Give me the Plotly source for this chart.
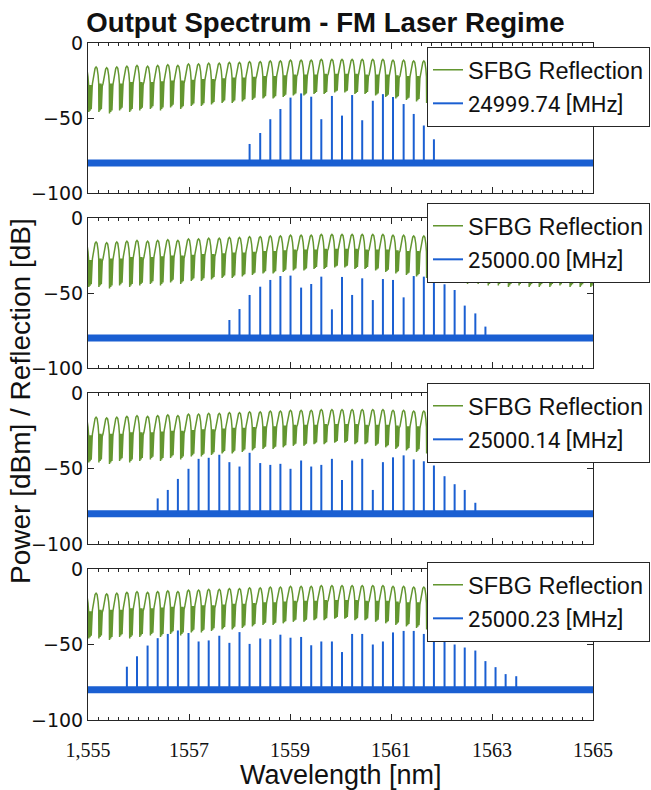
import plotly.graph_objects as go

# ---------------- data ----------------
# SFBG reflection peak wavelengths (nm); the laser comb sits on the same 25 GHz grid
WL_GRID = [1554.96, 1555.16, 1555.37, 1555.57, 1555.77, 1555.97, 1556.18, 1556.38, 1556.58, 1556.78,
           1556.99, 1557.19, 1557.39, 1557.60, 1557.80, 1558.00, 1558.20, 1558.41, 1558.61, 1558.81,
           1559.01, 1559.22, 1559.42, 1559.62, 1559.83, 1560.03, 1560.23, 1560.43, 1560.64, 1560.84,
           1561.04, 1561.25, 1561.45, 1561.65, 1561.85, 1562.06, 1562.26, 1562.46, 1562.67, 1562.87,
           1563.07, 1563.27, 1563.48, 1563.68, 1563.88, 1564.09, 1564.29, 1564.49, 1564.69, 1564.90,
           1565.10]

# SFBG reflection per period: peak level, level where the fast ripple starts, ripple bottom (dB)
SFBG_TOP = [-17, -16, -16.5, -16, -15.5, -15, -15.5, -15, -14.5, -15,
            -14, -14, -13.5, -13.5, -13, -13, -12.5, -12.5, -12, -12,
            -11.5, -11.5, -11.5, -11, -11, -11, -11, -11, -11, -11,
            -11.5, -11.5, -12, -12, -12, -12.5, -12.5, -13, -13, -13.5,
            -13.5, -14, -14, -14.5, -14.5, -15, -15, -15.5, -15.5, -16,
            -16]
SFBG_MID = [-28, -27, -27, -27, -26, -26, -26, -25.5, -25, -25,
            -24.5, -24, -24, -23.5, -23, -23, -22.5, -22, -22, -21.5,
            -21, -21, -21, -20.5, -20.5, -20.5, -20.5, -21, -21, -21,
            -21.5, -22, -22, -22.5, -23, -23, -23.5, -24, -24, -24.5,
            -25, -25, -25.5, -26, -26, -26.5, -26.5, -27, -27, -27.5,
            -27.5]
SFBG_BOT = [-46, -46, -47, -45, -46, -45, -44, -45, -43, -44,
            -42, -42, -41, -40, -40, -39, -38, -37, -37, -36,
            -35, -35, -34, -34, -33, -33, -34, -34, -35, -36,
            -37, -38, -39, -40, -41, -42, -43, -44, -44, -45,
            -45, -46, -45, -46, -46, -46, -45, -46, -46, -46,
            -46]

# Laser comb: lines on WL_GRID[4:43]; peak power (dBm), None = no line
COMB_P1 = [None] * 12 + [-67.3, -60, -50.8, -44, -36.4, -33.6, -35.8, -50.8, -35.3, -48.4,
                         -34.7, -51.5, -38.5, -34.1, -36, -40.7, -47.3, -55, -64.2] + [None] * 8
COMB_P2 = [None] * 10 + [-68, -60.7, -51.3, -45.8, -41.3, -38.7, -38.4, -46.4, -44, -39.1,
                         -60.9, -39.3, -51.3, -40.2, -54.7, -40.7, -41.3, -52.9, -38.7, -39.1,
                         -42.9, -44.2, -48, -58.4, -63.6, -72.4] + [None] * 3
COMB_P3 = [None] * 3 + [-69.8, -64.2, -56.9, -50.2, -43.6, -42.9, -40.9, -45.8, -48.7, -39.6,
                        -46.4, -47.6, -46.9, -50.2, -44.7, -48.7, -47.6, -43.6, -57.6, -44.7,
                        -43.6, -64.2, -45.8, -42.6, -41.3, -44, -45.2, -48, -55.1, -60.4,
                        -64.2, -72.7] + [None] * 4
COMB_P4 = [-64.7, -57.8, -50.7, -45.8, -43, -40.7, -42.4, -48, -47.3, -44.2,
           -48.9, -41.8, -49.6, -46, -46.5, -43.5, -45.5, -45, -50.5, -48,
           -48, -55, -43, -43, -50, -48, -42, -41, -41, -43,
           -45, -46, -50, -52, -54, -61, -65, -69.6, -71]
COMBS = [COMB_P1, COMB_P2, COMB_P3, COMB_P4]
FREQ_LABELS = ["24999.74 [MHz]", "25000.00 [MHz]", "25000.14 [MHz]", "25000.23 [MHz]"]
NOISE_FLOOR = -80
NOISE_WL = [1555, 1565]

X_TICKS = [1555, 1557, 1559, 1561, 1563, 1565]
X_TICKTEXT = ["1,555", "1557", "1559", "1561", "1563", "1565"]
Y_TICKS = [0, -50, -100]

# ---------------- styles ----------------
GREEN = "#639630"
BLUE = "#1a5fd2"
AX = "#262626"
W, H = 651, 790
ML, MR, MT, MB = 88, 58, 43, 70
PANEL_PX = [(43, 193), (218, 368), (393, 544), (569, 720)]
LEGEND_TOP_PX = [47, 203, 383, 562]
LEGEND_LEFT_PX = 427

PH = H - MT - MB
PW = W - ML - MR


def py(ypix):
    return (H - MB - ypix) / PH


def px(xpix):
    return (xpix - ML) / PW


# one SFBG period: (phase, part, fraction); 'u' = between mid and top, 'd' = between bottom and mid
SHAPE = [(0.00, 'u', 0.0), (0.12, 'u', 0.55), (0.26, 'u', 0.92), (0.36, 'u', 1.0),
         (0.46, 'u', 0.92), (0.56, 'u', 0.5), (0.62, 'u', 0.0),
         (0.64, 'd', 0.0), (0.67, 'd', 0.9), (0.70, 'd', 0.1), (0.73, 'd', 1.0),
         (0.76, 'd', 0.05), (0.79, 'd', 0.95), (0.82, 'd', 0.15), (0.85, 'd', 1.0),
         (0.88, 'd', 0.1), (0.91, 'd', 0.9), (0.94, 'd', 0.2), (0.97, 'd', 0.9)]
PERIOD = WL_GRID[1] - WL_GRID[0]

gx, gy = [], []
for wl, t, m, b in zip(WL_GRID, SFBG_TOP, SFBG_MID, SFBG_BOT):
    start = wl - 0.36 * PERIOD
    for ph, part, f in SHAPE:
        gx.append(start + ph * PERIOD)
        gy.append(m + f * (t - m) if part == 'u' else b + f * (m - b))

COMB_WL = WL_GRID[4:43]

fig = go.Figure()
layout = {}
for p in range(4):
    sfx = "" if p == 0 else str(p + 1)
    xa, ya, leg = "x" + sfx, "y" + sfx, "legend" + sfx
    fig.add_trace(go.Scatter(x=gx, y=gy, mode="lines", line=dict(color=GREEN, width=1.5),
                             name="SFBG Reflection", xaxis=xa, yaxis=ya, legend=leg,
                             legendgroup="g%d" % p))
    fig.add_trace(go.Scatter(x=NOISE_WL, y=[NOISE_FLOOR] * 2, mode="lines",
                             line=dict(color=BLUE, width=7), showlegend=False,
                             xaxis=xa, yaxis=ya, hoverinfo="skip"))
    cx, cy = [], []
    for wl, h in zip(COMB_WL, COMBS[p]):
        if h is None:
            continue
        cx += [wl, wl, None]
        cy += [NOISE_FLOOR, h, None]
    fig.add_trace(go.Scatter(x=cx, y=cy, mode="lines", line=dict(color=BLUE, width=2),
                             name="<span style=\"font-family:Roboto;font-size:22px\">%s</span>" % FREQ_LABELS[p],
                             xaxis=xa, yaxis=ya, legend=leg, legendgroup="b%d" % p))

    top, bot = PANEL_PX[p]
    layout["xaxis" + sfx] = dict(
        domain=[0, 1], range=[1555, 1565], anchor=ya,
        showline=True, linecolor=AX, linewidth=1, mirror="allticks",
        ticks="inside", ticklen=6, tickcolor=AX,
        tickvals=X_TICKS, ticktext=X_TICKTEXT, showticklabels=(p == 3),
        tickfont=dict(family="Liberation Serif", size=20, color="#111"),
        ticklabelstandoff=12,
        minor=dict(tickmode="linear", tick0=1555, dtick=0.2, ticks="inside", ticklen=3, tickcolor=AX),
        showgrid=False, zeroline=False)
    layout["yaxis" + sfx] = dict(
        domain=[py(bot), py(top)], range=[-100, 0], anchor=xa,
        showline=True, linecolor=AX, linewidth=1, mirror="allticks",
        ticks="inside", ticklen=6, tickcolor=AX, tickvals=Y_TICKS,
        tickfont=dict(family="DejaVu Sans", size=19, color="#111"),
        showgrid=False, zeroline=False)
    layout[leg] = dict(
        x=px(LEGEND_LEFT_PX), xanchor="left", xref="paper",
        y=py(LEGEND_TOP_PX[p]), yanchor="top", yref="paper",
        bgcolor="white", bordercolor=AX, borderwidth=1,
        font=dict(family="Liberation Sans", size=23.5, color="#111"),
        tracegroupgap=0)

fig.update_layout(**layout)
fig.update_layout(
    width=W, height=H,
    margin=dict(l=ML, r=MR, t=MT, b=MB, pad=0, autoexpand=False),
    paper_bgcolor="white", plot_bgcolor="white",
    font=dict(family="Liberation Sans", color="#111"),
    title=dict(text="<b>Output Spectrum - FM Laser Regime</b>", x=0.5, xref="container",
               xanchor="center", y=1 - 22 / H, yref="container", yanchor="middle",
               font=dict(family="Liberation Sans", size=27.6, color="#111")),
    annotations=[
        dict(text="Power [dBm] / Reflection [dB]", textangle=-90, x=px(20), y=py(401),
             xref="paper", yref="paper", showarrow=False, xanchor="center", yanchor="middle",
             font=dict(family="Liberation Sans", size=28, color="#111")),
        dict(text="Wavelength [nm]", x=px(341), y=py(775), xref="paper", yref="paper",
             showarrow=False, xanchor="center", yanchor="middle",
             font=dict(family="Liberation Sans", size=27, color="#111")),
    ],
)

fig.write_html("out.html")
